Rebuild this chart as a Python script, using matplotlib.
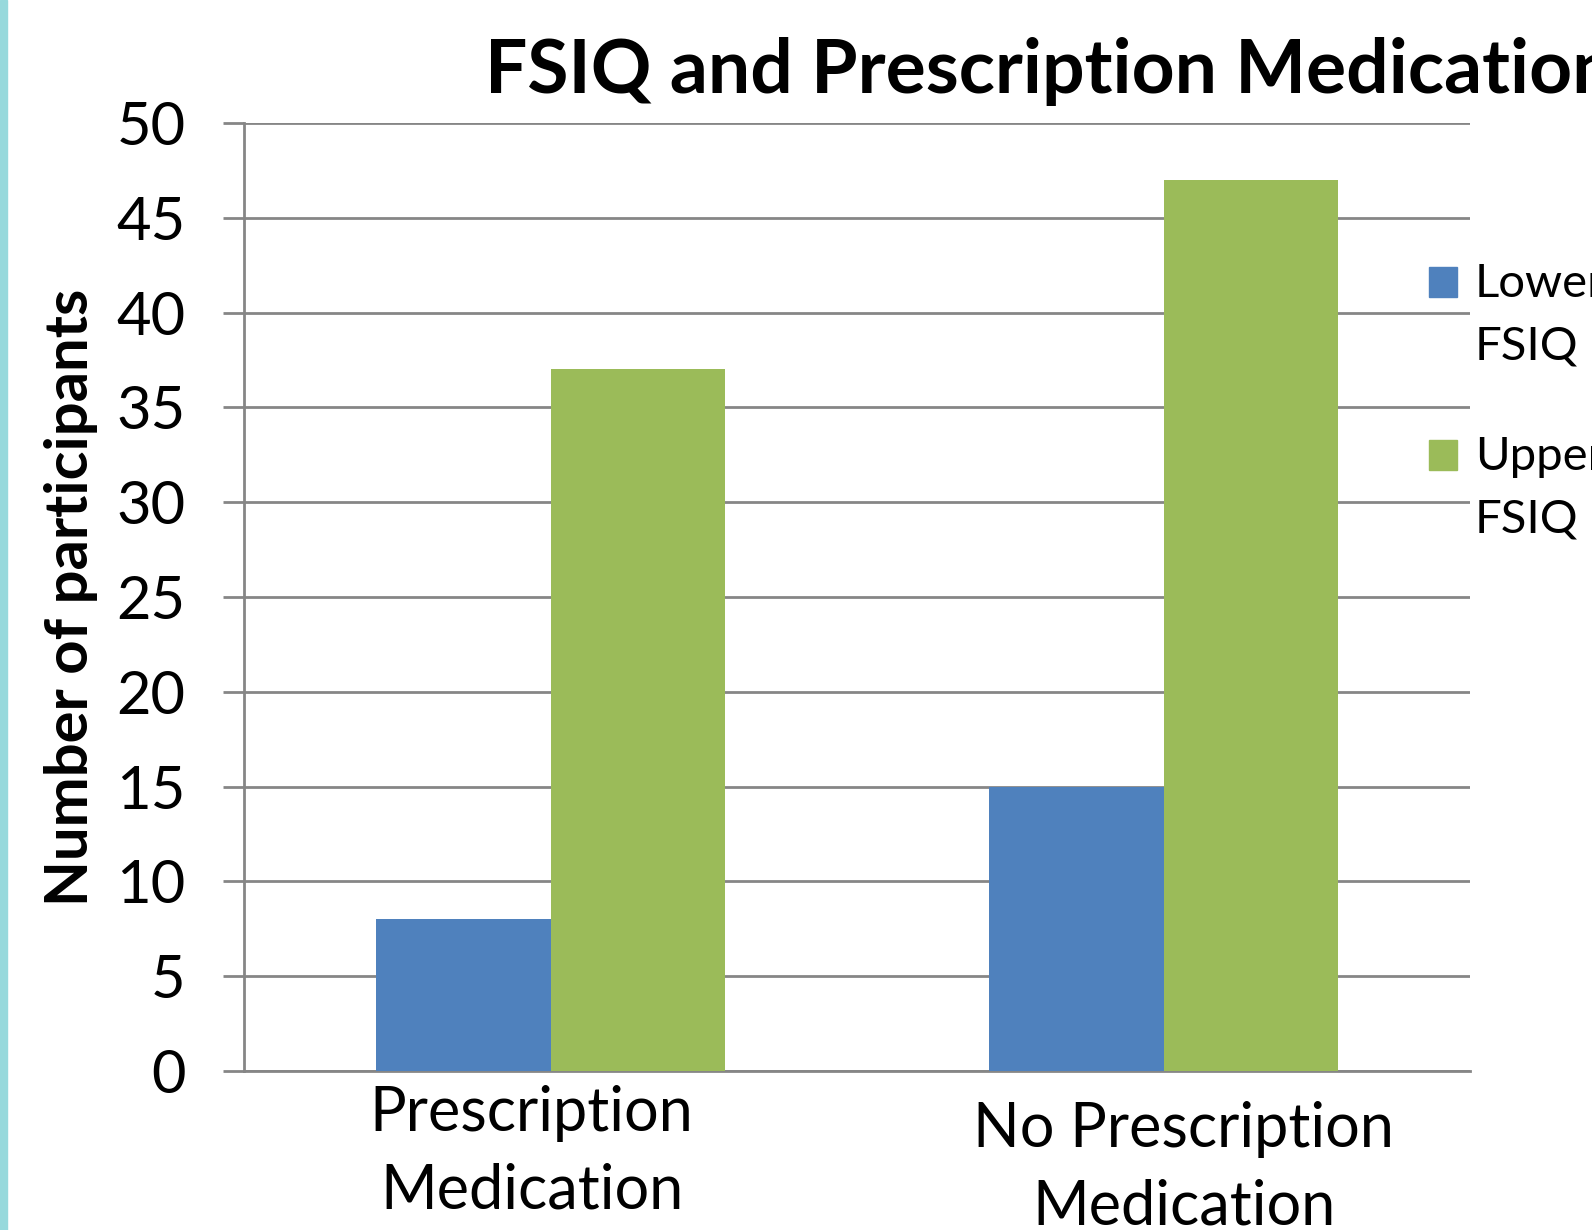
import matplotlib.pyplot as plt
from matplotlib.patches import Rectangle
from matplotlib.transforms import ScaledTranslation
import numpy as np

plt.rcParams['font.family'] = ['Lato', 'DejaVu Sans']

# data
categories = ['Prescription\nMedication', 'No Prescription\nMedication']
series_names = ['Lower\nFSIQ', 'Upper\nFSIQ']
lower_fsiq = [8, 15]
upper_fsiq = [37, 47]
colors = ['#4F81BD', '#9BBB59']
grid_col = '#868686'

fig = plt.figure(figsize=(15.92, 12.30), dpi=100)
ax = fig.add_axes([0.1533, 0.1293, 0.7701, 0.7707])

x = np.arange(len(categories))
w = 0.284
ax.bar(x - w / 2, lower_fsiq, w, color=colors[0], zorder=3)
ax.bar(x + w / 2, upper_fsiq, w, color=colors[1], zorder=3)

ax.set_xlim(-0.5, 1.5)
ax.set_ylim(0, 50)
ax.set_yticks(range(0, 51, 5))
ax.set_xticks(x)
ax.set_xticklabels(categories, fontsize=44, linespacing=1.45)
ax.tick_params(axis='x', length=0, pad=10)
ax.tick_params(axis='y', labelsize=43, length=15, width=2, color=grid_col, pad=27)
ax.yaxis.grid(True, color=grid_col, linewidth=2, zorder=0)
ax.set_axisbelow(True)
for s in ['top', 'right']:
    ax.spines[s].set_visible(False)
for s in ['left', 'bottom']:
    ax.spines[s].set_color(grid_col)
    ax.spines[s].set_linewidth(2)

# excel nudged the category labels a bit
shifts = [(-19, 0), (20, -16)]
for lab, (dx, dy) in zip(ax.get_xticklabels(), shifts):
    lab.set_transform(lab.get_transform() + ScaledTranslation(dx / 100, dy / 100, fig.dpi_scale_trans))

ax.set_ylabel('Number of participants', fontsize=43, fontweight='bold')
ax.yaxis.set_label_coords(-0.141, 0.5)
ax.yaxis.label.set_va('center')

fig.text(485 / 1592, 1 - 93 / 1230, 'FSIQ and Prescription Medication',
         fontsize=54, fontweight='bold', ha='left', va='baseline')

# legend drawn by hand so the swatch sits on the first line
leg_y = [267, 440]
for name, c, y in zip(series_names, colors, leg_y):
    fig.patches.append(Rectangle((1429 / 1592, 1 - (y + 30) / 1230), 28 / 1592, 30 / 1230,
                                 transform=fig.transFigure, color=c))
    fig.text(1475 / 1592, 1 - (y - 4) / 1230, name, fontsize=34, ha='left', va='top',
             linespacing=1.6)

# cyan strip on the left edge
fig.patches.append(Rectangle((0, 0), 7 / 1592, 1, transform=fig.transFigure, color='#97D9DC'))

fig.savefig('out.png', dpi=100)
